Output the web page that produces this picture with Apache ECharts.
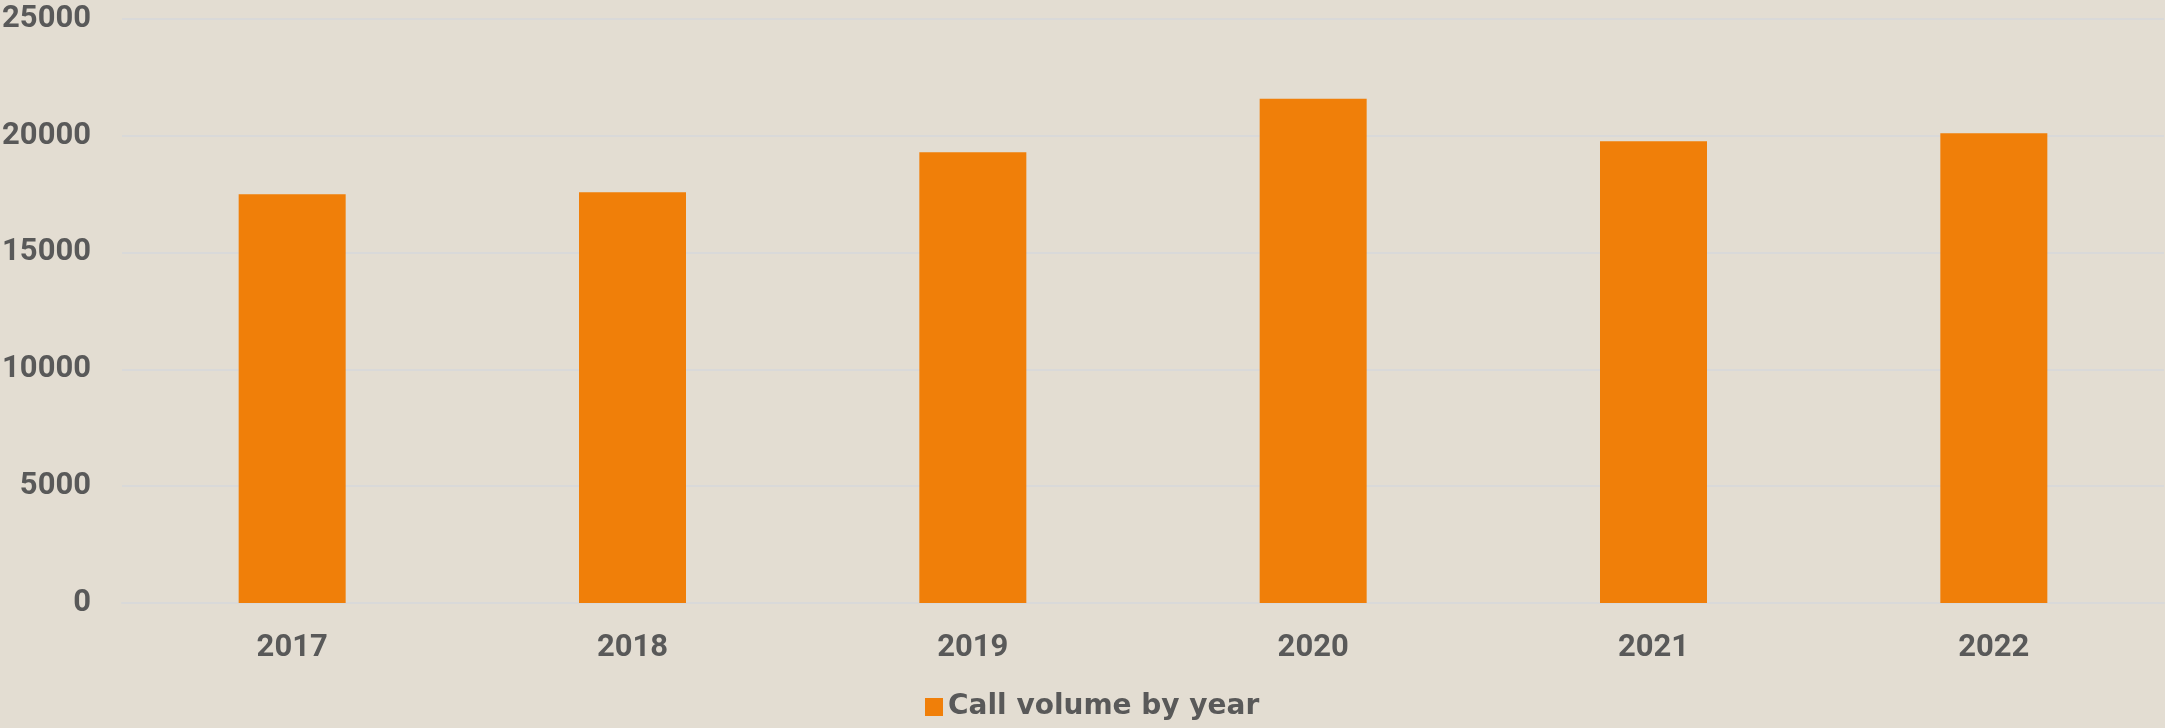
<!DOCTYPE html>
<html>
<head>
<meta charset="utf-8">
<script src="https://cdn.jsdelivr.net/npm/echarts@6/dist/echarts.min.js"></script>
<style>
html,body{margin:0;padding:0;background:#E3DDD2;}
#chart{width:2165px;height:728px;}
</style>
</head>
<body>
<div id="chart"></div>
<script>
const categories = ['2017', '2018', '2019', '2020', '2021', '2022'];
const callVolume = [17500, 17580, 19300, 21590, 19770, 20110];
const seriesName = 'Call volume by year';

const chart = echarts.init(document.getElementById('chart'));
chart.setOption({
  backgroundColor: '#E3DDD2',
  animation: false,
  grid: { left: 122, right: 1, top: 19, bottom: 125, containLabel: false, outerBoundsMode: 'none' },
  legend: {
    data: [seriesName],
    top: 691,
    left: 925,
    padding: 0,
    itemWidth: 18,
    itemHeight: 18,
    itemGap: 9,
    icon: 'rect',
    textStyle: { color: '#595959', fontSize: 28, fontWeight: 'bold', fontFamily: '"DejaVu Sans", sans-serif', lineHeight: 32 }
  },
  xAxis: {
    type: 'category',
    data: categories,
    axisLine: { show: true, lineStyle: { color: '#D9D9D9', width: 2 } },
    axisTick: { show: false },
    axisLabel: { color: '#595959', fontSize: 31, fontWeight: 'bold', fontFamily: 'Roboto, sans-serif', margin: 30 }
  },
  yAxis: {
    type: 'value',
    min: 0,
    max: 25000,
    interval: 5000,
    axisLine: { show: false },
    axisTick: { show: false },
    splitLine: { lineStyle: { color: '#D9D9D9', width: 2 } },
    axisLabel: {
      color: '#595959', fontSize: 31, fontWeight: 'bold', fontFamily: 'Roboto, sans-serif', margin: 31,
      formatter: function (v) { return String(v); }
    }
  },
  series: [{
    name: seriesName,
    type: 'bar',
    data: callVolume,
    barWidth: 107,
    itemStyle: { color: '#F07F09' }
  }]
});
</script>
</body>
</html>
